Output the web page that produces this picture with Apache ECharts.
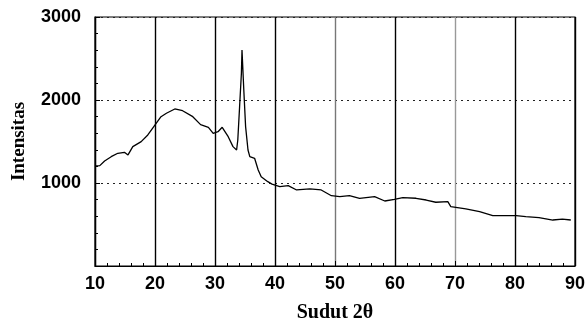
<!DOCTYPE html>
<html>
<head>
    <meta charset="utf-8"/>
    <title>XRD</title>
    <script src="https://cdn.jsdelivr.net/npm/echarts@6/dist/echarts.min.js"></script>
    <style>
        html, body { margin: 0; padding: 0; background: #fff; }
    </style>
</head>
<body>
<div id="main" style="width: 587px; height: 323px;"></div>
<script type="text/javascript">
    // sudut 2 theta (derajat)
    var sudut = [10.0, 10.8, 11.6, 12.7, 13.8, 14.9, 15.5, 16.3, 17.7, 18.8, 19.8, 21.0, 21.9, 23.3,
        24.6, 26.3, 27.6, 28.9, 29.7, 30.5, 31.2, 32.2, 33.0, 33.6, 33.8, 34.1, 34.4, 34.5, 34.8,
        35.1, 35.5, 35.8, 36.6, 37.2, 37.7, 38.8, 39.5, 40.8, 42.2, 43.6, 45.8, 47.7, 49.4, 50.8,
        52.4, 54.1, 56.6, 58.3, 59.9, 61.3, 63.5, 65.2, 66.8, 68.8, 69.3, 71.8, 74.1, 76.3, 78.5,
        80.2, 81.8, 84.0, 86.3, 87.9, 89.3];
    // intensitas (cacah)
    var intensitas = [1205, 1209, 1265, 1317, 1358, 1370, 1338, 1438, 1498, 1579, 1679, 1799, 1840, 1892,
        1871, 1799, 1703, 1671, 1599, 1618, 1671, 1558, 1438, 1398, 1518, 1920, 2322, 2603, 2121,
        1679, 1398, 1318, 1298, 1157, 1076, 1016, 986, 956, 968, 916, 928, 916, 847, 835,
        847, 816, 835, 783, 804, 823, 816, 795, 768, 775, 715, 687, 654, 606, 606,
        606, 594, 582, 554, 566, 554];

    var xTicks = [10, 20, 30, 40, 50, 60, 70, 80, 90];
    var yTicks = [0, 1000, 2000, 3000];

    var data = sudut.map(function (s, i) {
        return [s, intensitas[i]];
    });

    var chart = echarts.init(document.getElementById('main'));
    var option = {
        backgroundColor: '#fff',
        animation: false,
        grid: {
            left: 95,
            right: 12,
            top: 17,
            bottom: 57,
            outerBoundsMode: 'none',
            containLabel: false,
            show: true,
            borderColor: '#000',
            borderWidth: 1.2
        },
        xAxis: {
            type: 'value',
            min: xTicks[0],
            max: xTicks[xTicks.length - 1],
            interval: 10,
            name: 'Sudut 2θ',
            nameLocation: 'middle',
            nameGap: 37,
            nameTextStyle: {
                fontFamily: 'Liberation Serif',
                fontWeight: 'bold',
                fontSize: 20,
                color: '#000'
            },
            axisLine: { lineStyle: { color: '#000', width: 1.2 } },
            axisTick: { inside: true, length: 5, lineStyle: { color: '#000' } },
            minorTick: { show: true, splitNumber: 5, length: 3, lineStyle: { color: '#000' } },
            axisLabel: {
                margin: 9,
                fontFamily: 'Liberation Sans',
                fontWeight: 'bold',
                fontSize: 18,
                color: '#000'
            },
            splitLine: {
                show: true,
                lineStyle: {
                    color: ['#000', '#000', '#000', '#000', '#777', '#000', '#999', '#000', '#000'],
                    width: 1.4
                }
            }
        },
        yAxis: {
            type: 'value',
            min: yTicks[0],
            max: yTicks[yTicks.length - 1],
            interval: 1000,
            name: 'Intensitas',
            nameLocation: 'middle',
            nameGap: 66,
            nameTextStyle: {
                fontFamily: 'Liberation Serif',
                fontWeight: 'bold',
                fontSize: 19,
                color: '#000'
            },
            axisLine: { show: true, lineStyle: { color: '#000', width: 1.2 } },
            axisTick: { show: true, inside: true, length: 5, lineStyle: { color: '#000' } },
            minorTick: { show: true, splitNumber: 5, length: 3, lineStyle: { color: '#000' } },
            axisLabel: {
                margin: 14,
                fontFamily: 'Liberation Sans',
                fontWeight: 'bold',
                fontSize: 18,
                color: '#000',
                formatter: function (v) { return v === 0 ? '' : String(v); }
            },
            splitLine: {
                show: true,
                lineStyle: { color: '#222', type: [2, 4], width: 1 }
            }
        },
        series: [
            {
                name: 'Intensitas',
                type: 'line',
                data: data,
                showSymbol: false,
                lineStyle: { color: '#000', width: 1.3 }
            }
        ]
    };
    chart.setOption(option);
</script>
</body>
</html>
